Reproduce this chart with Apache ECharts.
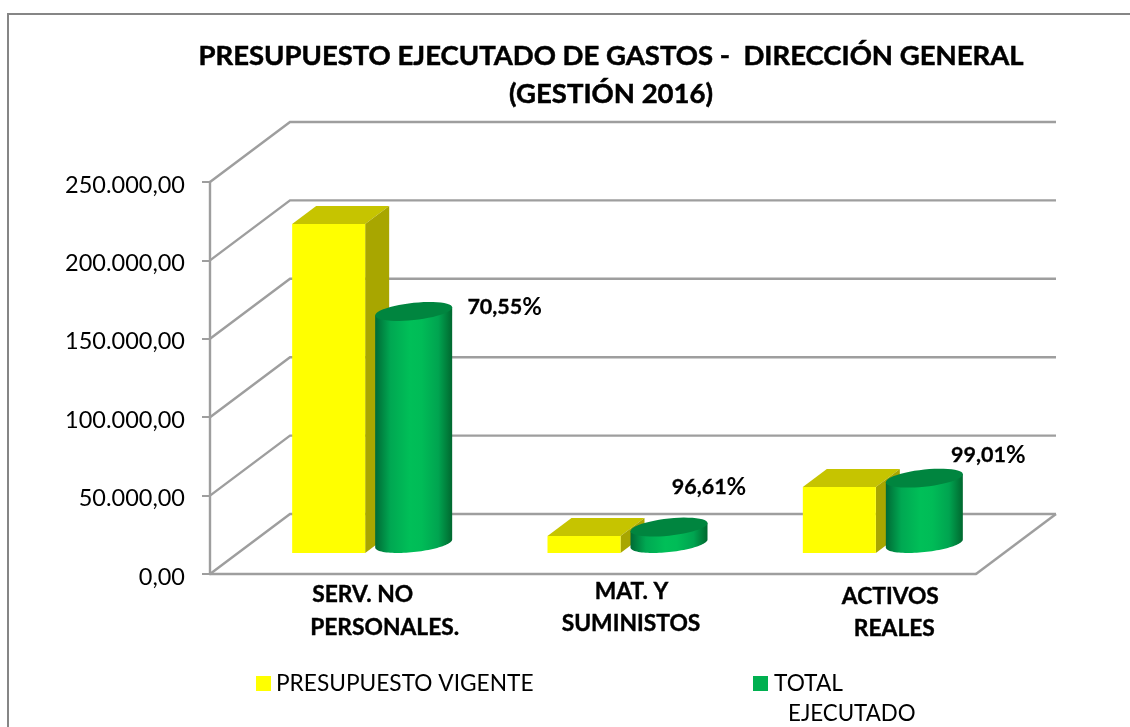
<!DOCTYPE html>
<html><head><meta charset="utf-8">
<style>html,body{margin:0;padding:0;background:#fff}#c{width:1130px;height:727px}</style>
<script src="https://cdn.jsdelivr.net/npm/echarts@6/dist/echarts.min.js"></script>
</head><body><div id="c"></div>
<script>
var categories = ['SERV. NO PERSONALES.', 'MAT. Y SUMINISTOS', 'ACTIVOS REALES'];
var presupuestoVigente = [209800, 10840, 42100];
var totalEjecutado = [148000, 10470, 41680];
var percentLabels = ['70,55%', '96,61%', '99,01%'];
var yTicks = [0, 50000, 100000, 150000, 200000, 250000];
var categoryLines = [['SERV. NO', 'PERSONALES.'], ['MAT. Y', 'SUMINISTOS'], ['ACTIVOS', 'REALES']];

// layout of the pseudo-3D projection (pixels)
var WALL = [80, -60], BAR_DEPTH = [24, -18], BAR_SHIFT = [28, -21];
var FONT = 'Lato, Carlito, sans-serif';
var GRID_COLOR = '#9E9E9E';
var labelOffsets = [[91, -4], [40, -40], [64, -23]];
var catLabelOffsets = [[[25, 21], [47, 54]], [[38.5, 18], [38, 50]], [[42, 23], [46, 54.5]]];

function gridRender(params, api) {
  var cs = params.coordSys, v = api.value(0);
  var y = api.coord([0, v])[1];
  var left = cs.x, right = cs.x + cs.width;
  var kids = [{
    type: 'polyline',
    shape: { points: [[left, y], [left + WALL[0], y + WALL[1]], [right + WALL[0], y + WALL[1]]] },
    style: { stroke: GRID_COLOR, lineWidth: 2.4, fill: null }
  }];
  if (v === 0) kids.push({
    type: 'line',
    shape: { x1: right, y1: y, x2: right + WALL[0], y2: y + WALL[1] },
    style: { stroke: GRID_COLOR, lineWidth: 2.4 }
  });
  return { type: 'group', children: kids };
}

function boxRender(params, api) {
  var i = api.value(0), top = api.coord([i, api.value(1)]), base = api.coord([i, 0]);
  var hw = 36.5, cx = top[0] + BAR_SHIFT[0] - 37;
  var l = cx - hw, r = cx + hw, t = top[1] + BAR_SHIFT[1], b = base[1] + BAR_SHIFT[1];
  var dx = BAR_DEPTH[0], dy = BAR_DEPTH[1];
  return { type: 'group', children: [
    { type: 'polygon', shape: { points: [[l, t], [l + dx, t + dy], [r + dx, t + dy], [r, t]] }, style: { fill: '#C6C400' } },
    { type: 'polygon', shape: { points: [[r, t], [r + dx, t + dy], [r + dx, b + dy], [r, b]] }, style: { fill: '#A8A600' } },
    { type: 'rect', shape: { x: l, y: t, width: r - l, height: b - t }, style: { fill: api.visual('color') } }
  ] };
}

function ellipsePts(cx, cy, rx, ry, k, from, to) {
  var pts = [], n = 48;
  for (var j = 0; j <= n; j++) {
    var a = from + (to - from) * j / n, ex = rx * Math.cos(a);
    pts.push([cx + ex, cy + ry * Math.sin(a) - k * ex]);
  }
  return pts;
}

function cylRender(params, api) {
  var i = api.value(0), top = api.coord([i, api.value(1)]), base = api.coord([i, 0]);
  var cx = top[0] + BAR_SHIFT[0] + 48, rx = 38.5, ry = 8.6, k = 4 / 38.5;
  var ty = top[1] - 30.5, by = base[1] - 30.5;
  var grad = { type: 'linear', x: 0, y: 0, x2: 1, y2: 0, colorStops: [
    { offset: 0, color: '#006A35' }, { offset: 0.2, color: '#00A852' }, { offset: 0.45, color: '#00BF58' },
    { offset: 0.6, color: '#00BC57' }, { offset: 0.82, color: '#00A450' }, { offset: 1, color: '#00682F' }
  ] };
  var topEdge = [[cx + rx, ty - rx * k], [cx - rx, ty + rx * k]];
  return { type: 'group', children: [
    { type: 'polygon', shape: { points: ellipsePts(cx, by, rx, ry, k, Math.PI, 0).concat(topEdge) }, style: { fill: grad } },
    { type: 'polygon', shape: { points: ellipsePts(cx, ty, rx, ry, k, 0, Math.PI * 2) }, style: { fill: '#00853F' } }
  ] };
}

function pctRender(params, api) {
  var i = api.value(0), top = api.coord([i, api.value(1)]);
  var o = labelOffsets[i], s = percentLabels[i];
  return { type: 'text', style: {
    x: top[0] + BAR_SHIFT[0] + 48 + o[0], y: top[1] - 30.5 + o[1],
    text: '{n|' + s.slice(0, -1) + '}{p|%}',
    rich: {
      n: { font: 'bold 21.5px ' + FONT, fill: '#000', stroke: '#000', lineWidth: 0.3 },
      p: { font: 'bold 24px ' + FONT, fill: '#000' }
    },
    align: 'center', verticalAlign: 'middle'
  } };
}

function catRender(params, api) {
  var i = api.value(0), base = api.coord([i, 0]), lines = categoryLines[i], o = catLabelOffsets[i];
  return { type: 'group', children: lines.map(function (s, j) {
    return { type: 'text', style: {
      x: base[0] + o[j][0], y: base[1] + o[j][1], text: s,
      font: 'bold 22.8px ' + FONT, fill: '#000', stroke: '#000', lineWidth: 0.4, align: 'center', verticalAlign: 'middle'
    } };
  }) };
}

var idx = categories.map(function (c, i) { return i; });
var chart = echarts.init(document.getElementById('c'), null, { renderer: 'canvas' });
chart.setOption({
  animation: false,
  backgroundColor: '#fff',
  title: {
    text: 'PRESUPUESTO EJECUTADO DE GASTOS -  DIRECCIÓN GENERAL\n(GESTIÓN 2016)',
    left: 606, top: 32, textAlign: 'center',
    textStyle: { fontFamily: FONT, fontWeight: 'bold', fontSize: 27.5, lineHeight: 38, color: '#000', textBorderColor: '#000', textBorderWidth: 0.5 }
  },
  legend: [
    { data: ['PRESUPUESTO VIGENTE'], left: 251, top: 667, icon: 'rect', itemWidth: 15, itemHeight: 15, itemGap: 0,
      textStyle: { fontFamily: FONT, fontSize: 22.7, color: '#000', padding: [0, 0, 0, 0] } },
    { data: ['TOTAL EJECUTADO'], left: 748, top: 667, icon: 'rect', itemWidth: 15, itemHeight: 15, itemGap: 0,
      formatter: function () { return 'TOTAL'; },
      textStyle: { fontFamily: FONT, fontSize: 22.7, color: '#000', padding: [0, 0, 0, 1] } }
  ],
  graphic: [
    { type: 'polyline', shape: { points: [[8, 727], [8, 14], [1130, 14]] }, style: { stroke: '#868686', lineWidth: 2, fill: null }, silent: true },
    { type: 'text', left: 788, top: 703, style: { text: 'EJECUTADO', font: '22.3px ' + FONT, fill: '#000' } }
  ],
  grid: { left: 210, right: 154, top: 182, bottom: 153 },
  xAxis: {
    type: 'category', data: categories,
    axisLine: { lineStyle: { color: GRID_COLOR, width: 2.4 } },
    axisTick: { show: false }, axisLabel: { show: false }
  },
  yAxis: {
    type: 'value', min: 0, max: 250000, interval: 50000,
    axisLine: { show: true, lineStyle: { color: GRID_COLOR, width: 2.4 } },
    axisTick: { show: true, length: 8, lineStyle: { color: GRID_COLOR, width: 2 } },
    splitLine: { show: false },
    axisLabel: {
      margin: 25, color: '#000',
      formatter: function (v) { return '{t|' + v.toLocaleString('de-DE', { minimumFractionDigits: 2 }) + '}'; },
      rich: { t: { fontFamily: FONT, fontSize: 23.5, color: '#000', padding: [6, 0, 0, 0] } }
    }
  },
  series: [
    { type: 'custom', name: 'grid', silent: true, z: 1, renderItem: gridRender, clip: false, data: yTicks.map(function (v) { return [v]; }), encode: { y: 0 } },
    { type: 'custom', name: 'PRESUPUESTO VIGENTE', z: 3, renderItem: boxRender, clip: false, itemStyle: { color: '#FFFF00' },
      data: idx.map(function (i) { return [i, presupuestoVigente[i]]; }), encode: { x: 0, y: 1 } },
    { type: 'custom', name: 'TOTAL EJECUTADO', z: 4, renderItem: cylRender, clip: false, itemStyle: { color: '#00B050' },
      data: idx.map(function (i) { return [i, totalEjecutado[i]]; }), encode: { x: 0, y: 1 } },
    { type: 'custom', name: 'pct', silent: true, z: 5, renderItem: pctRender, clip: false,
      data: idx.map(function (i) { return [i, totalEjecutado[i]]; }), encode: { x: 0, y: 1 } },
    { type: 'custom', name: 'cat', silent: true, z: 5, renderItem: catRender, clip: false,
      data: idx.map(function (i) { return [i, 0]; }), encode: { x: 0, y: 1 } }
  ]
});
</script></body></html>
